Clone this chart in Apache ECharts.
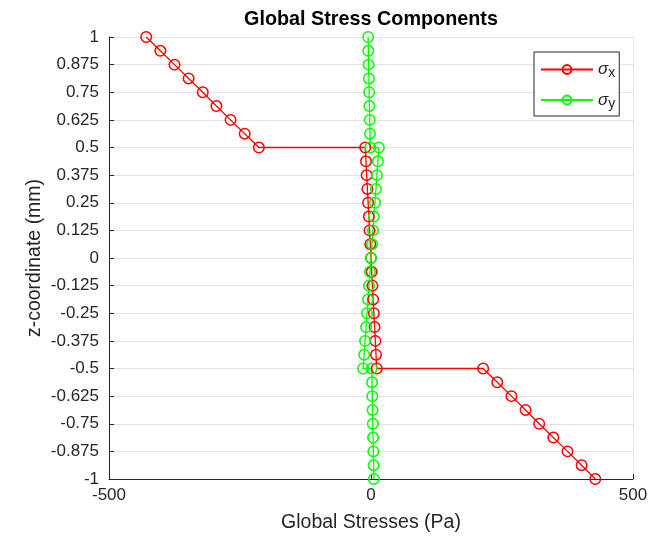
<!DOCTYPE html>
<html>
<head>
<meta charset="utf-8">
<script src="https://cdn.jsdelivr.net/npm/echarts@6/dist/echarts.min.js"></script>
<style>
  html, body { margin: 0; padding: 0; background: #fff; }
  #chart { width: 669px; height: 538px; }
</style>
</head>
<body>
<div id="chart"></div>
<script>
// Through-thickness positions (mm), top layer -> middle layer -> bottom layer
const zCoord = [
  1, 0.9375, 0.875, 0.8125, 0.75, 0.6875, 0.625, 0.5625, 0.5,
  0.5, 0.4375, 0.375, 0.3125, 0.25, 0.1875, 0.125, 0.0625, 0,
  -0.0625, -0.125, -0.1875, -0.25, -0.3125, -0.375, -0.4375, -0.5,
  -0.5, -0.5625, -0.625, -0.6875, -0.75, -0.8125, -0.875, -0.9375, -1
];

// Global stress sigma_x (Pa)
const sigmaX = [
  -429, -402, -375, -348, -321, -295, -268, -241, -214,
  -11, -9.6, -8.3, -6.9, -5.5, -4.1, -2.8, -1.4, 0,
  1.4, 2.8, 4.1, 5.5, 6.9, 8.3, 9.6, 11,
  214, 241, 268, 295, 321, 348, 375, 402, 428
];

// Global stress sigma_y (Pa)
const sigmaY = [
  -5.5, -5, -4.5, -4, -3.5, -3, -2.5, -2, -1.5,
  15, 13.1, 11.3, 9.4, 7.5, 5.6, 3.8, 1.9, 0,
  -1.9, -3.8, -5.6, -7.5, -9.4, -11.3, -13.1, -15,
  1.5, 2, 2.5, 3, 3.5, 4, 4.5, 5, 5.5
];

const seriesNames = ['{s|σ}{sub|x}', '{s|σ}{sub|y}'];
const seriesColors = ['#ff0000', '#00ff00'];

const toPairs = (xs) => xs.map((x, i) => [x, zCoord[i]]);

const axisColor = '#262626';
const fontFamily = 'Liberation Sans, Arial, Helvetica, sans-serif';

const chart = echarts.init(document.getElementById('chart'), null, { renderer: 'canvas' });

const makeSeries = (name, color, values) => ({
  name: name,
  type: 'line',
  data: toPairs(values),
  symbol: 'circle',
  symbolSize: 10.5,
  showAllSymbol: true,
  color: color,
  lineStyle: { color: color, width: 1.3 },
  itemStyle: { color: 'rgba(0,0,0,0)', borderColor: color, borderWidth: 1.5 },
  emphasis: { disabled: true },
  animation: false
});

chart.setOption({
  backgroundColor: '#ffffff',
  animation: false,
  title: {
    text: 'Global Stress Components',
    left: 366,
    top: 5,
    textAlign: 'center',
    textStyle: { fontFamily: fontFamily, fontSize: 19.8, fontWeight: 'bold', color: '#000' }
  },
  grid: { left: 109, right: 36, top: 37, bottom: 57, containLabel: false },
  legend: {
    orient: 'vertical',
    left: 534,
    top: 52,
    padding: [9, 4, 5, 6],
    itemGap: 11,
    itemWidth: 52,
    itemHeight: 11,
    backgroundColor: '#ffffff',
    borderColor: axisColor,
    borderWidth: 1,
    borderRadius: 0,
    data: seriesNames,
    textStyle: {
      fontFamily: fontFamily,
      color: axisColor,
      rich: {
        s: { fontSize: 17, fontStyle: 'italic', color: axisColor, lineHeight: 22, verticalAlign: 'middle' },
        sub: { fontSize: 14, color: axisColor, lineHeight: 10, verticalAlign: 'bottom' }
      }
    }
  },
  xAxis: {
    type: 'value',
    min: -500,
    max: 500,
    interval: 500,
    name: 'Global Stresses (Pa)',
    nameLocation: 'middle',
    nameGap: 34,
    nameMoveOverlap: false,
    nameTextStyle: { fontFamily: fontFamily, fontSize: 19.5, color: axisColor },
    axisLine: { show: true, onZero: false, lineStyle: { color: axisColor, width: 1 } },
    axisTick: { show: true, inside: true, length: 5, lineStyle: { color: axisColor } },
    axisLabel: { fontFamily: fontFamily, fontSize: 17, color: axisColor, margin: 8 },
    splitLine: { show: true, lineStyle: { color: '#e3e3e3', width: 1 } }
  },
  yAxis: {
    type: 'value',
    min: -1,
    max: 1,
    interval: 0.125,
    name: 'z-coordinate (mm)',
    nameLocation: 'middle',
    nameGap: 64,
    nameMoveOverlap: false,
    nameTextStyle: { fontFamily: fontFamily, fontSize: 19.5, color: axisColor },
    axisLine: { show: true, onZero: false, lineStyle: { color: axisColor, width: 1 } },
    axisTick: { show: true, inside: true, length: 5, lineStyle: { color: axisColor } },
    axisLabel: { fontFamily: fontFamily, fontSize: 17, color: axisColor, margin: 10 },
    splitLine: { show: true, lineStyle: { color: '#e3e3e3', width: 1 } }
  },
  series: [
    makeSeries(seriesNames[0], seriesColors[0], sigmaX),
    makeSeries(seriesNames[1], seriesColors[1], sigmaY)
  ]
});
</script>
</body>
</html>
